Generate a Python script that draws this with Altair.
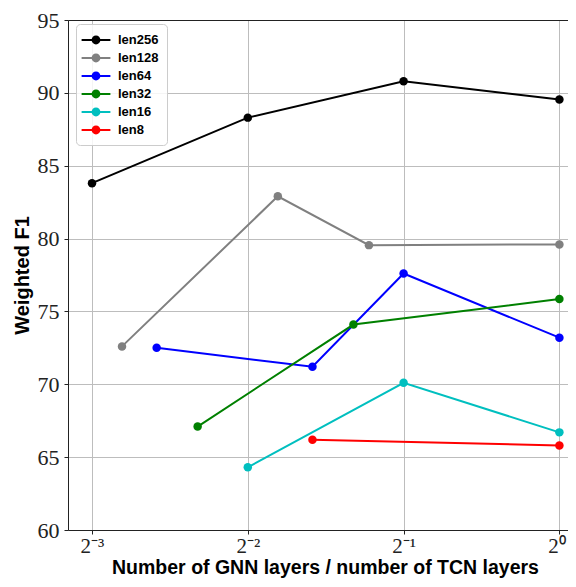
import altair as alt
import pandas as pd

series = ["len256", "len128", "len64", "len32", "len16", "len8"]
colors = ["#000000", "#808080", "#0000ff", "#008000", "#00bfbf", "#ff0000"]

x_len256 = [1/8, 2/8, 4/8, 1]
y_len256 = [83.8, 88.3, 90.8, 89.55]
x_len128 = [1/7, 2/7, 3/7, 1]
y_len128 = [72.6, 82.9, 79.55, 79.6]
x_len64 = [1/6, 2/6, 3/6, 1]
y_len64 = [72.5, 71.2, 77.6, 73.2]
x_len32 = [1/5, 2/5, 1]
y_len32 = [67.1, 74.1, 75.85]
x_len16 = [1/4, 2/4, 1]
y_len16 = [64.3, 70.1, 66.7]
x_len8 = [1/3, 1]
y_len8 = [66.2, 65.8]

x_tick_values = [0.125, 0.25, 0.5, 1]
x_tick_labels = ["2⁻³", "2⁻²", "2⁻¹", "2⁰"]
y_tick_values = [60, 65, 70, 75, 80, 85, 90, 95]

xs_all = [x_len256, x_len128, x_len64, x_len32, x_len16, x_len8]
ys_all = [y_len256, y_len128, y_len64, y_len32, y_len16, y_len8]

rows = []
for name, xs, ys in zip(series, xs_all, ys_all):
    for xv, yv in zip(xs, ys):
        rows.append({"series": name, "ratio": xv, "f1": yv})
df = pd.DataFrame(rows)

label_expr = " : ".join(
    f"abs(datum.value - {v}) < 1e-6 ? '{l}'" for v, l in zip(x_tick_values, x_tick_labels)
) + " : ''"

x_scale = alt.Scale(type="log", base=2, domain=[2 ** -3.154, 2 ** 0.0552], nice=False)
y_scale = alt.Scale(domain=[60, 95], nice=False, zero=False)

y_axis = alt.Axis(
    values=y_tick_values, grid=True, gridColor="#bdbdbd", gridWidth=1,
    domainColor="#222222", domainWidth=1, tickColor="#222222", tickSize=4,
    labelFont="Liberation Serif", labelFontSize=22, labelColor="#222222", labelPadding=5,
    title="Weighted F1", titleFont="Liberation Sans", titleFontWeight="bold",
    titleFontSize=20, titleColor="#000000", titlePadding=5,
)

x_axis_bottom = alt.Axis(
    orient="bottom", values=x_tick_values, labelExpr=label_expr, grid=True,
    gridColor="#bdbdbd", gridWidth=1, domainColor="#222222", domainWidth=1,
    tickColor="#222222", tickSize=4,
    labelFont="Liberation Serif", labelFontSize=21, labelColor="#222222", labelPadding=1,
    labelOffset={"condition": {"test": "datum.value >= 0.99", "value": -3}, "value": 0},
    title="Number of GNN layers / number of TCN layers", titleFont="Liberation Sans",
    titleFontWeight="bold", titleFontSize=19.5, titleColor="#000000", titlePadding=2,
    titleX=257,
)

x_axis_top = alt.Axis(
    orient="top", labels=False, ticks=False, grid=False, domain=True,
    domainColor="#222222", domainWidth=1, title=None, values=x_tick_values,
)

legend_symbol = (
    "M-1.8,-0.125H1.8V0.125H-1.8Z"
    "M0.55,0A0.55,0.55,0,1,1,-0.55,0A0.55,0.55,0,1,1,0.55,0Z"
)

color_scale = alt.Scale(domain=series, range=colors)

legend = alt.Legend(
    orient="none", legendX=8, legendY=4, title=None,
    symbolType=legend_symbol, symbolSize=256, symbolStrokeWidth=0,
    symbolOpacity=1, symbolOffset=4,
    labelFont="Liberation Sans", labelFontWeight="bold", labelFontSize=13,
    labelColor="#000000", labelOffset=14,
    fillColor="rgba(255,255,255,0.85)", strokeColor="#cccccc", cornerRadius=4,
    padding=8, rowPadding=3,
)

base = alt.Chart(df)

lines = base.mark_line(strokeWidth=2).encode(
    x=alt.X("ratio:Q", scale=x_scale, axis=x_axis_bottom),
    y=alt.Y("f1:Q", scale=y_scale, axis=y_axis),
    color=alt.Color("series:N", scale=color_scale, legend=legend),
    detail="series:N",
)

points = base.mark_point(filled=True, size=72, opacity=1).encode(
    x=alt.X("ratio:Q", scale=x_scale, axis=x_axis_top),
    y=alt.Y("f1:Q", scale=y_scale, axis=y_axis),
    color=alt.Color("series:N", scale=color_scale, legend=legend),
)

chart = alt.layer(lines, points).resolve_axis(x="independent").properties(
    width=500, height=510,
    autosize=alt.AutoSizeParams(type="none"),
    padding={"left": 60, "top": 12, "right": 0, "bottom": 49},
).configure_view(stroke=None).configure(background="white")

chart.save("out.html", embed_options={"renderer": "svg", "actions": False})
